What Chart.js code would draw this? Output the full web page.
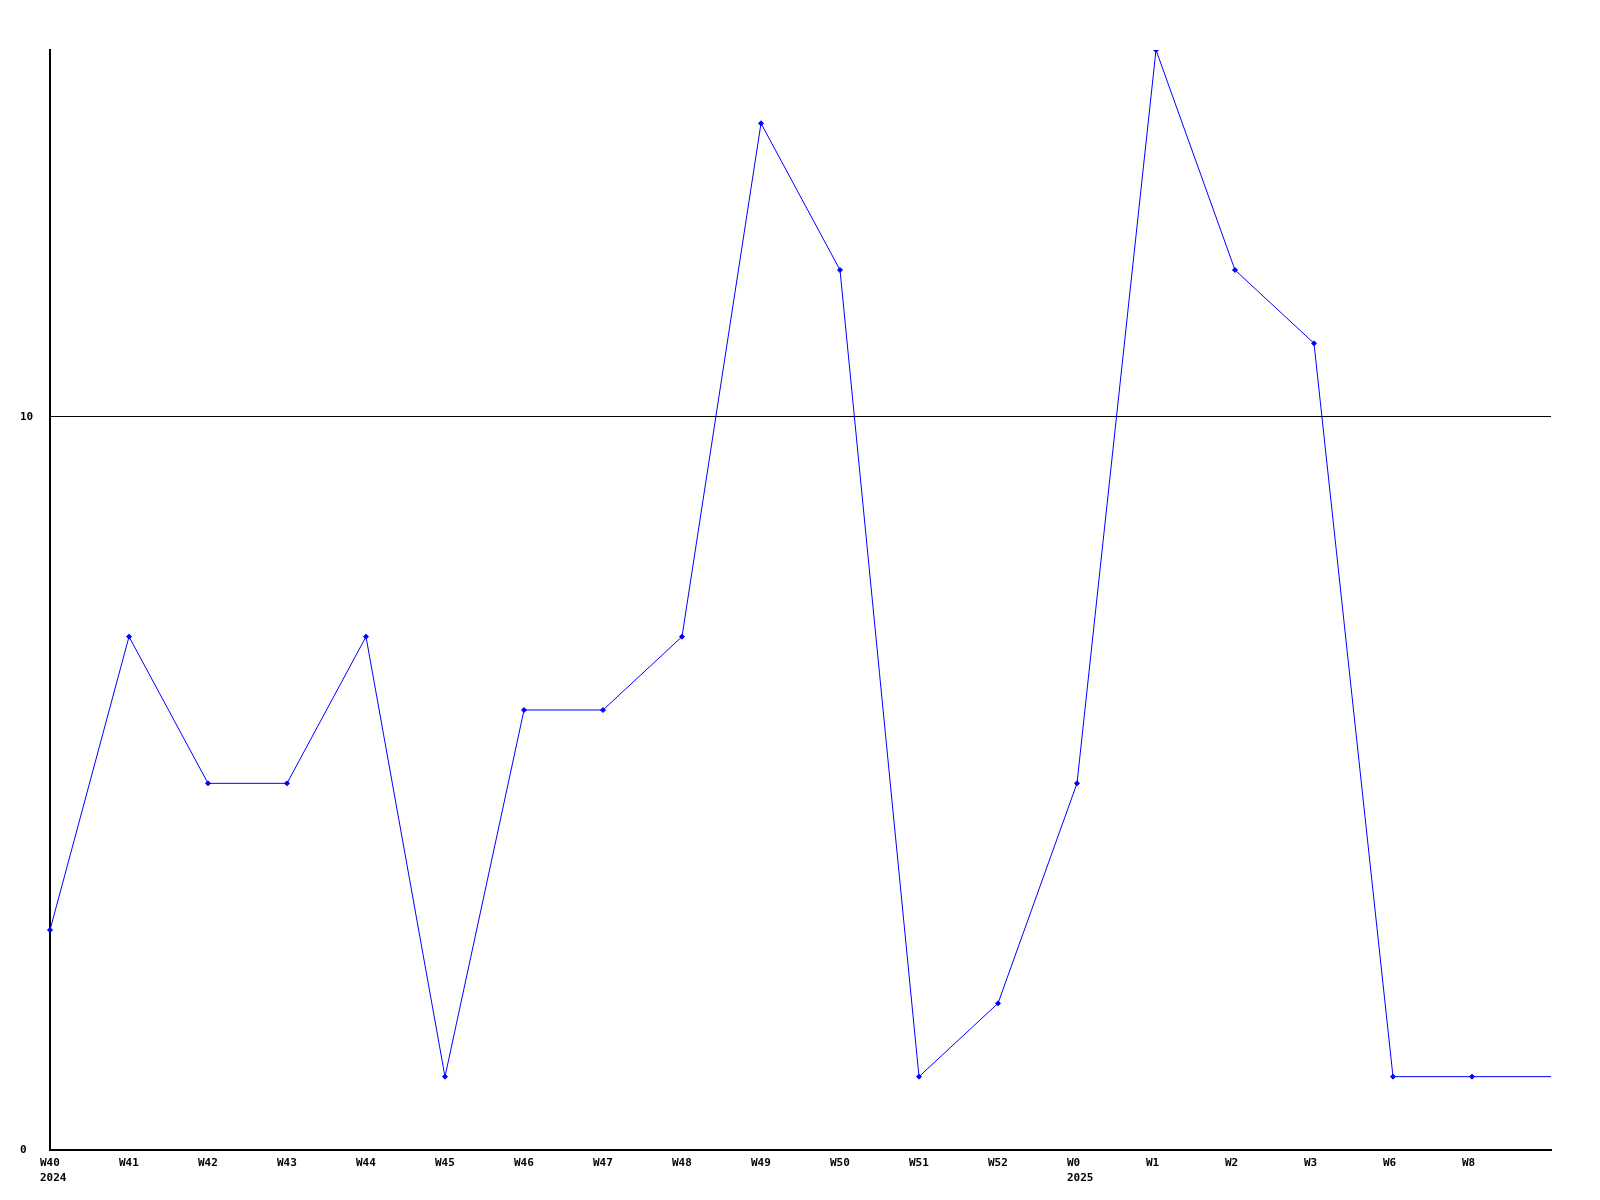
<!DOCTYPE html>
<html>
<head>
<meta charset="utf-8">
<script src="https://cdn.jsdelivr.net/npm/chart.js@4"></script>
<style>
  body { margin: 0; background: #fff; }
  canvas { display: block; }
</style>
</head>
<body>
<canvas id="grafico" width="1600" height="1200"></canvas>
<script>
const weeks = ["W40", "W41", "W42", "W43", "W44", "W45", "W46", "W47", "W48", "W49", "W50", "W51", "W52", "W0", "W1", "W2", "W3", "W6", "W8", ""];
const years = ["2024", "", "", "", "", "", "", "", "", "", "", "", "", "2025", "", "", "", "", "", ""];
const counts = [3, 7, 5, 5, 7, 1, 6, 6, 7, 14, 12, 1, 2, 5, 15, 12, 11, 1, 1, 1];
const yTicks = [0, 10];

document.addEventListener("DOMContentLoaded", function() {
    const ctx = document.getElementById("grafico").getContext("2d");
    const labels = weeks.map(function(w, i) { return years[i] ? [w, years[i]] : w; });
    const tickFont = { family: "DejaVu Sans Mono", size: 11, weight: "bold", lineHeight: "15px" };

    new Chart(ctx, {
        type: "line",
        data: {
            labels: labels,
            datasets: [{
                data: counts,
                borderColor: "#0000ff",
                backgroundColor: "#0000ff",
                borderWidth: 1,
                tension: 0,
                pointStyle: "rectRot",
                pointRadius: counts.map(function(v, i) { return weeks[i] ? 2.5 : 0; }),
                pointBorderWidth: 1
            }]
        },
        options: {
            responsive: false,
            animation: false,
            layout: { padding: { top: 50, right: 49, left: 20, bottom: 0 } },
            plugins: {
                legend: { display: false },
                tooltip: { enabled: false }
            },
            scales: {
                x: {
                    offset: false,
                    grid: { display: false },
                    border: { display: true, color: "#000", width: 2 },
                    ticks: {
                        color: "#000",
                        font: tickFont,
                        padding: -2,
                        align: "start",
                        labelOffset: -10,
                        maxRotation: 0,
                        autoSkip: false
                    },
                    afterFit: function(scale) { scale.height = 50; }
                },
                y: {
                    min: 0,
                    max: 15,
                    afterBuildTicks: function(scale) {
                        scale.ticks = yTicks.map(function(v) { return { value: v }; });
                    },
                    grid: {
                        drawTicks: false,
                        color: function(c) { return c.tick && c.tick.value === 10 ? "#000" : "rgba(0,0,0,0)"; },
                        lineWidth: 1
                    },
                    border: { display: true, color: "#000", width: 2 },
                    ticks: {
                        color: "#000",
                        font: tickFont,
                        crossAlign: "far",
                        padding: 4
                    },
                    afterFit: function(scale) { scale.width = 30; }
                }
            }
        }
    });
});
</script>
</body>
</html>
